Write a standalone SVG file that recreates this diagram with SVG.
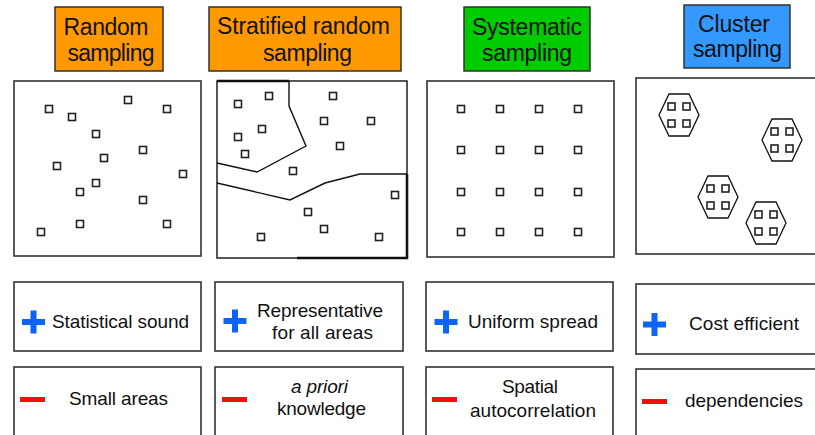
<svg xmlns="http://www.w3.org/2000/svg" width="815" height="435" viewBox="0 0 815 435">
  <style>
    .title { stroke: #333; stroke-width: 1.5; }
    .title-text { font-family: "Liberation Sans", Arial, sans-serif; font-size: 23px; fill: #111; text-anchor: middle; }
    .frame { fill: #fff; stroke: #333; stroke-width: 1.6; }
    .pt { fill: #fff; stroke: #222; stroke-width: 1.6; }
    .line { fill: none; stroke: #111; stroke-width: 1.4; }
    .thick { fill: none; stroke: #111; stroke-width: 2.6; }
    .hex { fill: #fff; stroke: #111; stroke-width: 1.3; }
    .label { font-family: "Liberation Sans", Arial, sans-serif; font-size: 19px; fill: #111; text-anchor: middle; }
    .plus { fill: #0a64f5; }
    .minus { fill: #f01010; }
  </style>
  <defs>
    <rect id="sq" x="-3.5" y="-3.5" width="7" height="7" class="pt"/>
    <g id="plus"><rect x="-11.5" y="-3" width="23" height="6" class="plus"/><rect x="-3" y="-11.5" width="6" height="23" class="plus"/></g>
    <rect id="minus" x="-12.5" y="-2.5" width="25" height="5" class="minus"/>
    <g id="cluster">
      <polygon points="-20,0 -10,-21 10,-21 20,0 10,21 -10,21" class="hex"/>
      <use href="#sq" x="-7.5" y="-8.5"/><use href="#sq" x="7.5" y="-8.5"/>
      <use href="#sq" x="-7.5" y="8.5"/><use href="#sq" x="7.5" y="8.5"/>
    </g>
  </defs>
  <rect width="815" height="435" fill="#fff"/>

  <!-- Random sampling column -->
  <g id="random">
    <rect x="55" y="7" width="108" height="64" class="title" fill="#ff9900"/>
    <text class="title-text" x="106" y="35" textLength="85">Random</text>
    <text class="title-text" x="111" y="61" textLength="87">sampling</text>
    <rect x="14" y="81" width="187" height="175" class="frame"/>
    <use href="#sq" x="49" y="109"/><use href="#sq" x="72" y="117"/><use href="#sq" x="128" y="100"/>
    <use href="#sq" x="167" y="109"/><use href="#sq" x="96" y="134"/><use href="#sq" x="143" y="150"/>
    <use href="#sq" x="104" y="158"/><use href="#sq" x="57" y="166"/><use href="#sq" x="183" y="174"/>
    <use href="#sq" x="96" y="183"/><use href="#sq" x="80" y="192"/><use href="#sq" x="143" y="200"/>
    <use href="#sq" x="80" y="224"/><use href="#sq" x="167" y="224"/><use href="#sq" x="41" y="232"/>
  </g>

  <!-- Stratified random sampling column -->
  <g id="stratified">
    <rect x="209" y="7" width="192" height="64" class="title" fill="#ff9900"/>
    <text class="title-text" x="303.5" y="34" textLength="173">Stratified random</text>
    <text class="title-text" x="307.5" y="61" textLength="89">sampling</text>
    <rect x="217" y="81" width="190" height="177" fill="#fff" stroke="#111" stroke-width="1.4"/>
    <path class="thick" d="M217,81 H289"/>
    <path class="thick" d="M407,174 V258 H297"/>
    <path class="line" d="M289,81 V106 L306,146 L257,172 L217,163"/>
    <path class="line" d="M217,183 L290,200 L325,183 L360,174 H407"/>
    <use href="#sq" x="269" y="96"/><use href="#sq" x="238" y="104"/><use href="#sq" x="333" y="96"/>
    <use href="#sq" x="324" y="121"/><use href="#sq" x="371" y="121"/><use href="#sq" x="262" y="129"/>
    <use href="#sq" x="238" y="137"/><use href="#sq" x="340" y="146"/><use href="#sq" x="245" y="154"/>
    <use href="#sq" x="293" y="171"/><use href="#sq" x="395" y="195"/><use href="#sq" x="308" y="212"/>
    <use href="#sq" x="324" y="229"/><use href="#sq" x="261" y="237"/><use href="#sq" x="379" y="237"/>
  </g>

  <!-- Systematic sampling column -->
  <g id="systematic">
    <rect x="464" y="7" width="126" height="64" class="title" fill="#00cc00"/>
    <text class="title-text" x="527" y="35" textLength="110">Systematic</text>
    <text class="title-text" x="527" y="61" textLength="90">sampling</text>
    <rect x="427" y="81" width="187" height="176" class="frame"/>
    <use href="#sq" x="461" y="109"/><use href="#sq" x="500" y="109"/><use href="#sq" x="539" y="109"/><use href="#sq" x="578" y="109"/>
    <use href="#sq" x="461" y="150"/><use href="#sq" x="500" y="150"/><use href="#sq" x="539" y="150"/><use href="#sq" x="578" y="150"/>
    <use href="#sq" x="461" y="192"/><use href="#sq" x="500" y="192"/><use href="#sq" x="539" y="192"/><use href="#sq" x="578" y="192"/>
    <use href="#sq" x="461" y="232"/><use href="#sq" x="500" y="232"/><use href="#sq" x="539" y="232"/><use href="#sq" x="578" y="232"/>
  </g>

  <!-- Cluster sampling column -->
  <g id="cluster-sampling">
    <rect x="684" y="5" width="106" height="63" class="title" fill="#3399ff"/>
    <text class="title-text" x="734" y="32" textLength="72">Cluster</text>
    <text class="title-text" x="737.5" y="57" textLength="89">sampling</text>
    <rect x="636" y="78" width="184" height="176" class="frame"/>
    <use href="#cluster" x="679" y="115"/>
    <use href="#cluster" x="782" y="140"/>
    <use href="#cluster" x="718" y="197"/>
    <use href="#cluster" x="766" y="223"/>
  </g>

  <!-- Advantages -->
  <g id="pro-random">
    <rect x="14" y="282" width="187" height="69" class="frame"/>
    <use href="#plus" x="33.5" y="322"/>
    <text class="label" x="120.5" y="328" textLength="137">Statistical sound</text>
  </g>
  <g id="pro-stratified">
    <rect x="215" y="282" width="188" height="69" class="frame"/>
    <use href="#plus" x="235" y="321"/>
    <text class="label" x="320" y="317" textLength="126">Representative</text>
    <text class="label" x="322.5" y="339" textLength="101">for all areas</text>
  </g>
  <g id="pro-systematic">
    <rect x="426" y="282" width="187" height="69" class="frame"/>
    <use href="#plus" x="446" y="322"/>
    <text class="label" x="533" y="328" textLength="130">Uniform spread</text>
  </g>
  <g id="pro-cluster">
    <rect x="636" y="284" width="184" height="70" class="frame"/>
    <use href="#plus" x="654.5" y="324.5"/>
    <text class="label" x="744" y="330" textLength="110">Cost efficient</text>
  </g>

  <!-- Disadvantages -->
  <g id="con-random">
    <rect x="14" y="367" width="187" height="80" class="frame"/>
    <use href="#minus" x="32.5" y="399.5"/>
    <text class="label" x="118.5" y="405" textLength="99">Small areas</text>
  </g>
  <g id="con-stratified">
    <rect x="215" y="367" width="188" height="80" class="frame"/>
    <use href="#minus" x="234.5" y="399.5"/>
    <text class="label" x="319.5" y="393" font-style="italic" textLength="57">a priori</text>
    <text class="label" x="321.5" y="415" textLength="89">knowledge</text>
  </g>
  <g id="con-systematic">
    <rect x="426" y="367" width="187" height="80" class="frame"/>
    <use href="#minus" x="444.5" y="399.5"/>
    <text class="label" x="530" y="393" textLength="56">Spatial</text>
    <text class="label" x="533" y="417" textLength="126">autocorrelation</text>
  </g>
  <g id="con-cluster">
    <rect x="636" y="369" width="184" height="80" class="frame"/>
    <use href="#minus" x="654.5" y="401.5"/>
    <text class="label" x="744" y="407" textLength="118">dependencies</text>
  </g>
</svg>
